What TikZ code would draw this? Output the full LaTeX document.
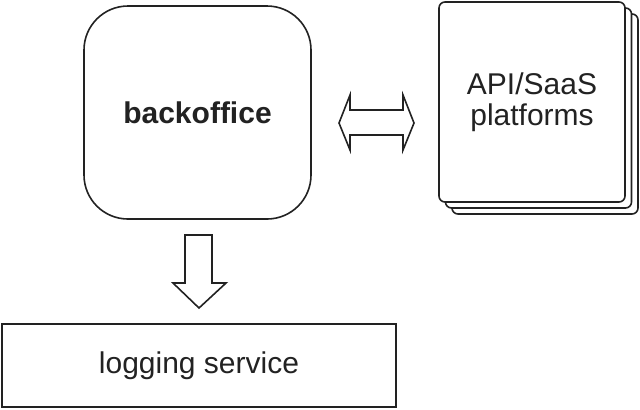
\documentclass[tikz,border=0pt]{standalone}
\usepackage{fontspec}
\setmainfont{Liberation Sans}
\definecolor{ink}{HTML}{222222}

\tikzset{
	box/.style = {draw = ink, line width = 0.8pt, fill = white, text = ink, font = \fontsize{15}{15.5}\selectfont},
	page/.style = {box, rounded corners = 3pt, minimum width = 93pt, minimum height = 100pt, align = center},
	blockarrow/.style = {draw = ink, line width = 0.8pt, line join = miter}
}

\begin{document}
\begin{tikzpicture}[x = 0.5pt, y = -0.5pt]
		\useasboundingbox (0,0)rectangle(640,409);
		% backoffice
		\node [box, rounded corners = 22pt, minimum width = 113.5pt, minimum height = 106.5pt] (backoffice) at (197.5,112.5) {\textbf{backoffice}};
		% stack of pages
		\node [page] (page3) at (545,114) {};
		\node [page] (page2) at (538.5,108) {};
		\node [page] (platforms) at (532,102) {API/SaaS\\platforms};
		% logging
		\node [box, minimum width = 197pt, minimum height = 41.5pt] (logging) at (199,365.5) {logging service};
		% arrows
		\draw [blockarrow] (339,123) -- (350,95) -- (350,110) -- (403,110) -- (403,95) -- (414,123) -- (403,150) -- (403,135) -- (350,135) -- (350,150) -- cycle;
		\draw [blockarrow] (185,235) -- (212,235) -- (212,283) -- (226,283) -- (199,308) -- (173,283) -- (185,283) -- cycle;
	\end{tikzpicture}
\end{document}
